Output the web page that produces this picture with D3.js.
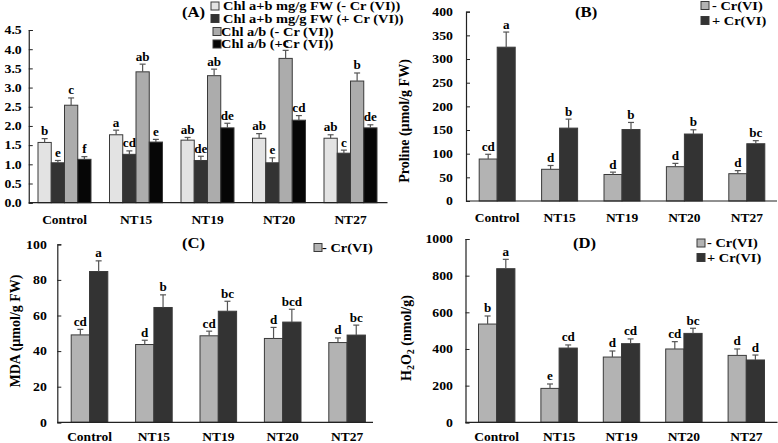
<!DOCTYPE html>
<html><head><meta charset="utf-8">
<script src="https://cdn.jsdelivr.net/npm/d3@7"></script>
<style>
body{margin:0;background:#fff;}
svg text{font-family:"Liberation Serif","Times New Roman",serif;font-weight:bold;fill:#000;}
</style></head>
<body>
<svg id="c" width="778" height="443"></svg>
<script>
const groups = ["Control","NT15","NT19","NT20","NT27"];

// Panel A: chlorophyll
const chlABMinus = [1.57,1.77,1.63,1.68,1.68];
const chlABMinusErr = [0.10,0.12,0.07,0.12,0.09];
const chlABPlus = [1.04,1.26,1.10,1.04,1.29];
const chlABPlusErr = [0.06,0.09,0.11,0.13,0.08];
const chlRatioMinus = [2.54,3.41,3.31,3.76,3.17];
const chlRatioMinusErr = [0.19,0.20,0.17,0.21,0.21];
const chlRatioPlus = [1.13,1.58,1.95,2.15,1.95];
const chlRatioPlusErr = [0.07,0.07,0.12,0.12,0.08];
const lettersA = [["b","a","ab","ab","ab"],["e","cd","de","e","c"],["c","ab","ab","c","b"],["f","e","de","cd","de"]];
const legendA = ["Chl a+b mg/g FW (- Cr (VI))","Chl a+b mg/g FW (+ Cr (VI))","Chl a/b (- Cr (VI))","Chl a/b (+Cr (VI))"];
const ticksA = [0,0.5,1,1.5,2,2.5,3,3.5,4,4.5];

// Panel B: proline
const prolineMinus = [88.7,67,56,72.5,57.7];
const prolineMinusErr = [10,8,5,7,6.5];
const prolinePlus = [325,154,151,141.5,121];
const prolinePlusErr = [32,19,15,9,6.5];
const lettersB = [["cd","d","d","d","d"],["a","b","b","b","bc"]];
const ticksB = [0,50,100,150,200,250,300,350,400];

// Panel C: MDA
const mdaMinus = [49.1,43.7,48.6,47.1,44.8];
const mdaMinusErr = [3.1,2.4,2.6,6.2,2.6];
const mdaPlus = [84.7,64.5,62.4,56.3,49];
const mdaPlusErr = [6,7.1,5.6,7.2,5.6];
const lettersC = [["cd","d","cd","d","d"],["a","b","bc","bcd","bc"]];
const ticksC = [0,20,40,60,80,100];

// Panel D: H2O2
const h2o2Minus = [536,185,356,400,365];
const h2o2MinusErr = [44,24,33,40,35];
const h2o2Plus = [838,405,429,485,340];
const h2o2PlusErr = [51,17,26,28,27];
const lettersD = [["b","e","d","cd","d"],["a","cd","cd","bc","d"]];
const ticksD = [0,200,400,600,800,1000];

const legendBD = ["- Cr(VI)","+ Cr(VI)"];

const svg = d3.select("#c");

function T(g, x, y, str, fs, sx, anchor){
  return g.append("text").attr("transform",`translate(${x},${y}) scale(${sx||1},1)`)
    .attr("text-anchor",anchor||"start").attr("font-size",fs).text(str);
}

function panel(o){
  const g = svg.append("g");
  const x = d3.scaleBand().domain(groups).range(o.xr);
  const nS = o.values.length;
  const xs = d3.scaleBand().domain(d3.range(nS)).range([0, o.bw*nS]);
  const y = d3.scaleLinear().domain(o.yd).range(o.yr);
  const off = (x.bandwidth() - o.bw*nS)/2;
  o.values.forEach((vals,s)=>{
    const gs = g.append("g");
    vals.forEach((v,i)=>{
      const bx = x(groups[i]) + off + xs(s);
      gs.append("rect").attr("x",bx).attr("y",y(v)).attr("width",xs.bandwidth()).attr("height",y(0)-y(v))
        .attr("fill",o.colors[s]).attr("stroke","#3a3a3a").attr("stroke-width",1);
      const cx = bx + xs.bandwidth()/2;
      const et = y(v + o.errs[s][i]);
      gs.append("line").attr("x1",cx).attr("x2",cx).attr("y1",y(v)).attr("y2",et).attr("stroke","#555").attr("stroke-width",1.2);
      gs.append("line").attr("x1",cx-3).attr("x2",cx+3).attr("y1",et).attr("y2",et).attr("stroke","#555").attr("stroke-width",1.2);
      T(gs, cx, et-3.5, o.letters[s][i], 12.5, 1.05, "middle");
    });
  });
  // y axis
  const ya = g.append("g").attr("transform",`translate(${o.xr[0]},0)`)
    .call(d3.axisLeft(y).tickValues(o.ticks).tickSize(-4).tickPadding(o.tp).tickFormat(o.fmt));
  ya.select(".domain").attr("stroke","#222").attr("stroke-width",1.2);
  ya.selectAll(".tick line").attr("stroke","#222");
  ya.selectAll("text").attr("font-size",12).attr("font-family",'"Liberation Serif",serif').attr("font-weight","bold").attr("fill","#000")
    .attr("x",-o.tp/1.15).attr("transform","scale(1.15,1)");
  // x axis line
  g.append("line").attr("x1",o.xr[0]).attr("x2",o.xEnd).attr("y1",y(0)).attr("y2",y(0)).attr("stroke","#222").attr("stroke-width",1.2);
  groups.forEach(gr=>{
    T(g, x(gr)+x.bandwidth()/2, o.xlY, gr, 13.5, 1, "middle");
  });
  // title
  T(g, o.title[1], o.title[2], o.title[0], 14.5, 1.15);
  // legend
  o.legend.forEach((t,i)=>{
    const L = o.legPos[i];
    g.append("rect").attr("x",L[0]).attr("y",L[2]-4).attr("width",8).attr("height",8)
      .attr("fill",o.colors[i]).attr("stroke","#3a3a3a").attr("stroke-width",1);
    T(g, L[1], L[2]+4, t, 12, 1.2);
  });
  // y label
  if(o.ylab){
    const t = g.append("text").attr("transform",`translate(${o.ylab.x},${o.ylab.y}) rotate(-90)`)
      .attr("text-anchor","middle").attr("font-size",14);
    o.ylab.parts.forEach(p=>{
      const ts = t.append("tspan").text(p.t);
      if(p.sub){ ts.attr("font-size",10).attr("dy",3); }
      else if(p.after){ ts.attr("dy",-3); }
    });
  }
  return g;
}

panel({
  xr:[28.75,386.25], xEnd:387.5, bw:13.25, yd:[0,4.5], yr:[202.7,30],
  values:[chlABMinus,chlABPlus,chlRatioMinus,chlRatioPlus],
  errs:[chlABMinusErr,chlABPlusErr,chlRatioMinusErr,chlRatioPlusErr],
  letters:lettersA, colors:["#e3e3e3","#333333","#acacac","#060606"],
  ticks:ticksA, tp:7, fmt:d3.format(".1f"), xlY:223.5,
  title:["(A)",182,17],
  legend:legendA, legPos:[[211,223,6],[211,223,18.5],[213,221,31.5],[213,221,44]]
});

panel({
  xr:[466,778], xEnd:777, bw:18, yd:[0,400], yr:[201,11.7],
  values:[prolineMinus,prolinePlus], errs:[prolineMinusErr,prolinePlusErr],
  letters:lettersB, colors:["#b3b3b3","#333333"],
  ticks:ticksB, tp:13, fmt:d3.format("d"), xlY:221.5,
  title:["(B)",575,17],
  legend:legendBD, legPos:[[701,712,5.5],[701,712,20.5]],
  ylab:{x:409,y:121,parts:[{t:"Proline (µmol/g FW)"}]}
});

panel({
  xr:[57.3,379.3], xEnd:373, bw:18.3, yd:[0,100], yr:[422.3,244.3],
  values:[mdaMinus,mdaPlus], errs:[mdaMinusErr,mdaPlusErr],
  letters:lettersC, colors:["#b3b3b3","#333333"],
  ticks:ticksC, tp:10.5, fmt:d3.format("d"), xlY:440.5,
  title:["(C)",182,248],
  legend:[legendBD[0]], legPos:[[314,322,247.5]],
  ylab:{x:20,y:331,parts:[{t:"MDA (µmol/g FW)"}]}
});

panel({
  xr:[465.5,777.5], xEnd:777.5, bw:18.2, yd:[0,1000], yr:[422.3,239],
  values:[h2o2Minus,h2o2Plus], errs:[h2o2MinusErr,h2o2PlusErr],
  letters:lettersD, colors:["#b3b3b3","#333333"],
  ticks:ticksD, tp:12.5, fmt:d3.format("d"), xlY:440.5,
  title:["(D)",573,248],
  legend:legendBD, legPos:[[697,707,243],[697,707,257.5]],
  ylab:{x:411,y:338,parts:[{t:"H"},{t:"2",sub:true},{t:"O",after:true},{t:"2",sub:true},{t:" (nmol/g)",after:true}]}
});
</script>
</body></html>
